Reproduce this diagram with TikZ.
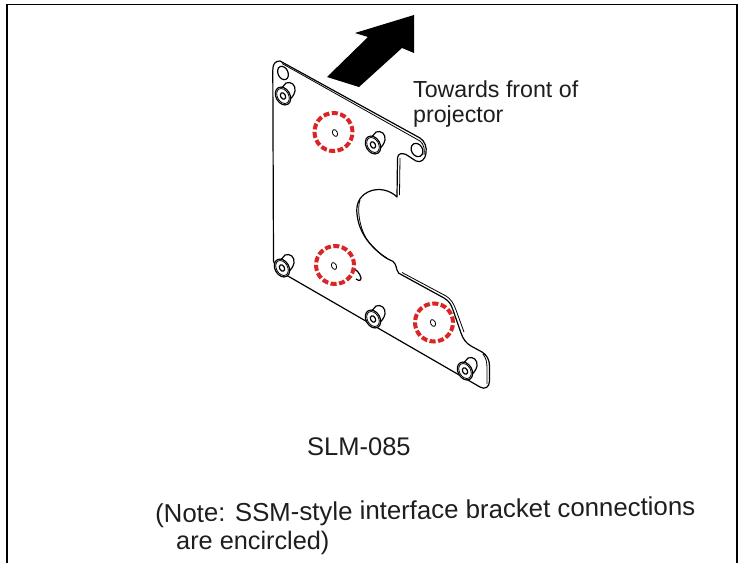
\documentclass[tikz,border=0pt]{standalone}
\usepackage{fontspec}
\setmainfont{Liberation Sans}
\definecolor{redring}{RGB}{218,37,37}
\definecolor{inktext}{RGB}{30,30,30}
\tikzset{
  frameline/.style={line width=1.8pt,black},
  edgeline/.style={line width=1.2pt,black,line join=round},
  thinedge/.style={line width=0.8pt,black,line join=round},
  ring/.style={draw=redring,line width=4pt,dash pattern=on 6pt off 2.5pt,line cap=butt},
  label/.style={inner sep=0pt,anchor=west,text=inktext,font=\fontsize{23.2pt}{26pt}\selectfont},
  pics/fastener/.style={code={
    \draw[edgeline,fill=white] (3,-13) .. controls (8,-15) and (13,-11) .. (12,-5)
       .. controls (11,-1) and (9,2) .. (5,5) -- (-3,-6) -- cycle;
    \draw[edgeline,fill=white,rotate=30] (0,0) ellipse (7pt and 9.5pt);
    \draw[thinedge,rotate=30] (0,0) ellipse (5.6pt and 8pt);
    \draw[edgeline,rotate=30] (0,0) ellipse (2.4pt and 3.4pt);
  }}
}
\begin{document}
\begin{tikzpicture}[x=1pt,y=-1pt]
\useasboundingbox (0,0) rectangle (740,563);
\fill[white] (0,0) rectangle (740,563);
% frame
\draw[frameline] (7,563) -- (7,4.5) -- (737,4.5) -- (737,563);
% arrow
\fill[black] (414,15) -- (414,53) -- (402,48) -- (359,87) -- (327,77) -- (368,37) -- (355,33) -- cycle;
% plate outline
\draw[edgeline,fill=white]
  (272.8,70) .. controls (272.8,64) and (275,61) .. (280,61)
  -- (420,138)
  .. controls (425,141) and (427,148) .. (426,153)
  .. controls (425,160) and (421,163) .. (416,161)
  -- (406,154.5)
  .. controls (402,153) and (398,153) .. (397.5,158)
  -- (397,197)
  .. controls (390,190) and (378,187) .. (368,192)
  .. controls (358,197) and (356,206) .. (357,214)
  .. controls (358,226) and (364,238) .. (373,247)
  .. controls (379,253) and (385,258) .. (390,260)
  .. controls (395,261) and (396,266) .. (397,270)
  .. controls (398,273) and (399,274) .. (402,275)
  -- (444,298)
  .. controls (449,301) and (451,304) .. (453,310)
  -- (461,333)
  .. controls (463,339) and (466,343) .. (471,346)
  -- (482,352)
  .. controls (487,355) and (489.5,360) .. (489.5,366)
  -- (489.5,381)
  .. controls (489.5,387) and (485,390) .. (480,387)
  -- (287,275.5)
  .. controls (280,272) and (275,268) .. (273.5,261)
  -- cycle;
% double edges
\draw[thinedge] (282,63.5) -- (420,141) .. controls (424,144) and (425,150) .. (424,155);
\draw[thinedge] (400,158) -- (399.5,195);
\draw[thinedge] (360,200) .. controls (357,208) and (359,226) .. (366,238) .. controls (372,247) and (380,254) .. (387,258);
\draw[thinedge] (402,272.5) -- (446,296) .. controls (451,299) and (454,304) .. (456,310) -- (464,332);
\draw[thinedge] (483,354) .. controls (486,358) and (487,362) .. (487,368) -- (487,384);
% holes
\draw[edgeline,fill=white,rotate around={25:(283,73)}] (283,73) ellipse (5pt and 7pt);
\draw[edgeline,fill=white,rotate around={30:(417,150)}] (417,150) ellipse (5.5pt and 7pt);
\draw[edgeline] (352,268) .. controls (356,269) and (360,273) .. (361,278) .. controls (361,281) and (359,281) .. (356,279);
\draw[thinedge,rotate around={25:(335,133)}] (335,133) ellipse (2.4pt and 3.6pt);
\draw[thinedge,rotate around={25:(334,266)}] (334,266) ellipse (2.4pt and 3.6pt);
\draw[thinedge,rotate around={25:(433,323)}] (433,323) ellipse (2.4pt and 3.6pt);
% fasteners
\pic at (283,96) {fastener};
\pic at (373,145) {fastener};
\pic at (282,268) {fastener};
\pic at (373,319) {fastener};
\pic at (465,371) {fastener};
% encircled connections
\draw[ring] (333.5,132) circle (19pt);
\draw[ring] (335,265) circle (19pt);
\draw[ring] (434,322.5) circle (19pt);
% texts
\node[label] (front1) at (413,89) {Towards front of};
\node[label] (front2) at (413,116) {projector};
\node[label,font=\fontsize{25.5pt}{28pt}\selectfont] (model) at (307,447) {SLM-085};
\node[label,font=\fontsize{25.8pt}{28pt}\selectfont,rotate=0.8] (note1) at (155,516) {(Note: SSM-style interface bracket connections};
\node[label,font=\fontsize{25.3pt}{28pt}\selectfont] (note2) at (176,543) {are encircled)};
\end{tikzpicture}
\end{document}
